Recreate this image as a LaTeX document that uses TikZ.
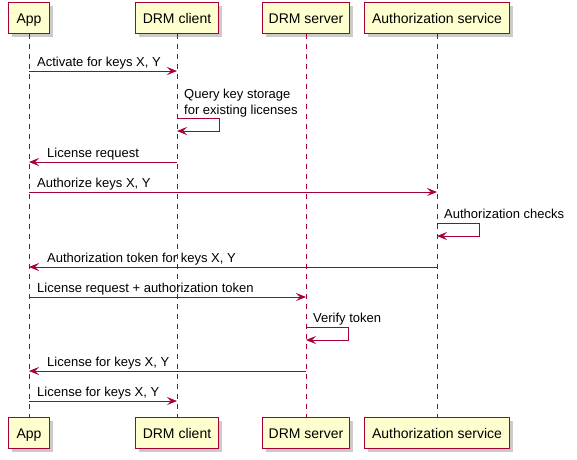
\documentclass[tikz,border=0pt]{standalone}
\usepackage{fontspec}
\setmainfont{Liberation Sans}
\usetikzlibrary{arrows.meta,shadows}

\definecolor{umlred}{HTML}{A80036}
\definecolor{umlfill}{HTML}{FEFECE}

\begin{document}
\begin{tikzpicture}[x=1pt, y=-1pt,
    every node/.style={font=\fontsize{13}{16}\selectfont},
    partbox/.style={draw=umlred, line width=1.2pt, fill=umlfill, minimum height=31pt,
        inner sep=0pt, text height=10pt, text depth=0pt, font=\fontsize{14}{16}\selectfont,
        drop shadow={shadow xshift=3.5pt, shadow yshift=-3.5pt, fill=black!45, opacity=0.45}},
    lifeline/.style={umlred, line width=0.9pt, dash pattern=on 5pt off 5pt},
    msg/.style={umlred, line width=0.9pt, -{Stealth[length=10pt, width=8pt, inset=4pt]}},
    msglabel/.style={anchor=base west, inner sep=0pt, align=left}]
    \useasboundingbox (0,0) rectangle (577,459);

    % Participants, top row
    \node[partbox, minimum width=41pt] (app) at (29,18) {App};
    \node[partbox, minimum width=83pt] (client) at (177,18) {DRM client};
    \node[partbox, minimum width=87pt] (server) at (306,18) {DRM server};
    \node[partbox, minimum width=145pt] (auth) at (437,18) {Authorization service};

    % Participants, bottom row
    \node[partbox, minimum width=41pt] (appB) at (29,433) {App};
    \node[partbox, minimum width=83pt] (clientB) at (177,433) {DRM client};
    \node[partbox, minimum width=87pt] (serverB) at (306,433) {DRM server};
    \node[partbox, minimum width=145pt] (authB) at (437,433) {Authorization service};

    % Lifelines
    \draw[lifeline] (app.south) -- (appB.north);
    \draw[lifeline] (client.south) -- (clientB.north);
    \draw[lifeline] (server.south) -- (serverB.north);
    \draw[lifeline] (auth.south) -- (authB.north);

    % Message end points
    \coordinate (a1) at (29,71);   \coordinate (c1) at (177,71);
    \coordinate (q1) at (177,118); \coordinate (q2) at (177,131);
    \coordinate (c3) at (177,162); \coordinate (a3) at (29,162);
    \coordinate (a4) at (29,192);  \coordinate (z4) at (437,192);
    \coordinate (k1) at (437,223); \coordinate (k2) at (437,236);
    \coordinate (z6) at (437,267); \coordinate (a6) at (29,267);
    \coordinate (a7) at (29,297);  \coordinate (s7) at (306,297);
    \coordinate (v1) at (306,327); \coordinate (v2) at (306,340);
    \coordinate (s9) at (306,371); \coordinate (a9) at (29,371);
    \coordinate (a10) at (29,401); \coordinate (c10) at (177,401);

    % Messages
    \draw[msg] (a1) -- (c1);
    \node[msglabel] (l1) at (37,66.5) {Activate for keys X, Y};

    \draw[msg] (q1) -- ++(42,0) |- (q2);
    \node[msglabel] (l2) at (184,114) {Query key storage\\for existing licenses};

    \draw[msg] (c3) -- (a3);
    \node[msglabel] (l3) at (47,157) {License request};

    \draw[msg] (a4) -- (z4);
    \node[msglabel] (l4) at (37,187) {Authorize keys X, Y};

    \draw[msg] (k1) -- ++(42,0) |- (k2);
    \node[msglabel] (l5) at (444,218) {Authorization checks};

    \draw[msg] (z6) -- (a6);
    \node[msglabel] (l6) at (47,262) {Authorization token for keys X, Y};

    \draw[msg] (a7) -- (s7);
    \node[msglabel] (l7) at (37,292) {License request + authorization token};

    \draw[msg] (v1) -- ++(42,0) |- (v2);
    \node[msglabel] (l8) at (313,322) {Verify token};

    \draw[msg] (s9) -- (a9);
    \node[msglabel] (l9) at (47,366) {License for keys X, Y};

    \draw[msg] (a10) -- (c10);
    \node[msglabel] (l10) at (37,396) {License for keys X, Y};
\end{tikzpicture}
\end{document}
